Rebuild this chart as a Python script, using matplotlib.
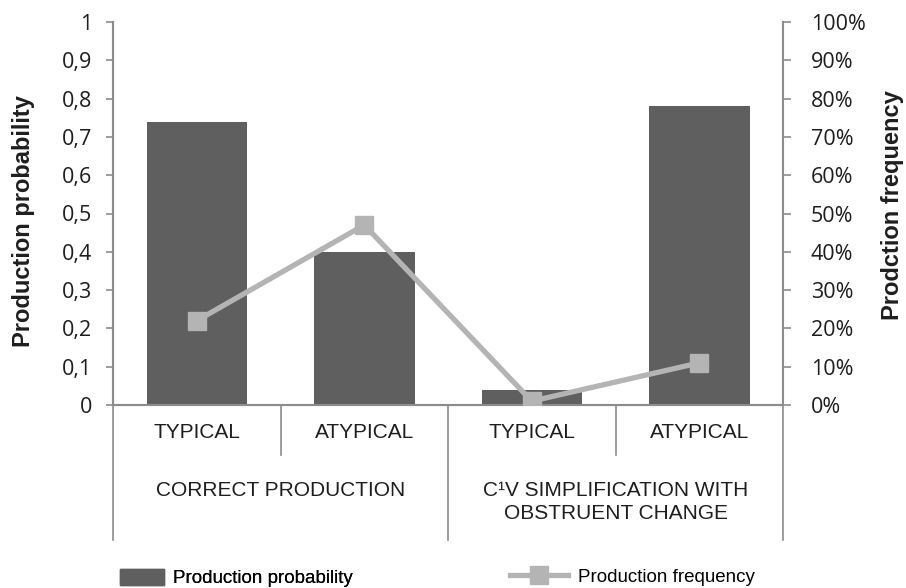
import matplotlib.pyplot as plt
import matplotlib.transforms as mtransforms
from matplotlib.lines import Line2D
from matplotlib.patches import Patch

# data
inner_labels = ["TYPICAL", "ATYPICAL", "TYPICAL", "ATYPICAL"]
outer_labels = ["CORRECT PRODUCTION", "C\u00b9V SIMPLIFICATION WITH\nOBSTRUENT CHANGE"]
probability = [0.74, 0.40, 0.04, 0.78]
frequency = [0.22, 0.47, 0.01, 0.11]

left_ticks = [0, 0.1, 0.2, 0.3, 0.4, 0.5, 0.6, 0.7, 0.8, 0.9, 1]
right_ticks = [0, 0.1, 0.2, 0.3, 0.4, 0.5, 0.6, 0.7, 0.8, 0.9, 1.0]

bar_color = "#5f5f5f"
line_color = "#b4b4b4"
axis_color = "#8c8c8c"
text_color = "#1e1e1e"
arial = ["Liberation Sans", "DejaVu Sans"]
tick_font = ["Open Sans", "DejaVu Sans"]

fig = plt.figure(figsize=(9.06, 5.88), dpi=100)
ax = fig.add_axes([113 / 906, 1 - 405 / 588, 670 / 906, 383 / 588])
ax2 = ax.twinx()

x = list(range(len(probability)))
ax.bar(x, probability, width=0.6, color=bar_color, zorder=2)
ax2.plot(x, frequency, color=line_color, lw=3.8, marker="s", markersize=12.5,
         zorder=3)

ax.set_xlim(-0.5, 3.5)
ax.set_ylim(0, 1)
ax2.set_ylim(0, 1)
ax.set_yticks(left_ticks)
ax.set_yticklabels([("%g" % t).replace(".", ",") for t in left_ticks],
                   fontsize=15.5, family=tick_font, color=text_color)
ax2.set_yticks(right_ticks)
ax2.set_yticklabels(["%d%%" % round(t * 100) for t in right_ticks],
                    fontsize=15.5, family=tick_font, color=text_color)
ax.set_xticks([])

for a in (ax, ax2):
    for s in a.spines.values():
        s.set_color(axis_color)
        s.set_linewidth(1.5)
    a.spines["top"].set_visible(False)
ax.spines["right"].set_visible(False)
ax.tick_params(axis="y", color=axis_color, length=5, width=1.2, pad=10)
ax2.tick_params(axis="y", color=axis_color, length=6, width=1.2, pad=14)

ax.set_ylabel("Production probability", fontsize=17, fontweight="bold",
              family=arial, color=text_color, va="center")
ax2.set_ylabel("Prodction frequency", fontsize=17, fontweight="bold",
               family=arial, color=text_color, va="center", rotation=90)
ax.yaxis.set_label_coords(-89 / 670, 0.48)
ax2.yaxis.set_label_coords(779 / 670, 0.522)

# two-level category axis
trans = mtransforms.blended_transform_factory(ax.transData, ax.transAxes)
short_y = -50 / 383
long_y = -135 / 383
for pos in [-0.5, 1.5, 3.5]:
    ax.plot([pos, pos], [0, long_y], transform=trans, color=axis_color,
            lw=1.2, clip_on=False)
for pos in [0.5, 2.5]:
    ax.plot([pos, pos], [0, short_y], transform=trans, color=axis_color,
            lw=1.2, clip_on=False)
for i, lab in enumerate(inner_labels):
    ax.text(i, -27 / 383, lab, transform=trans, ha="center", va="center",
            fontsize=15, family=arial, color=text_color)
for j, lab in enumerate(outer_labels):
    ax.text(2 * j + 0.5, -76 / 383, lab, transform=trans, ha="center", va="top",
            fontsize=15, family=arial, color=text_color, linespacing=1.25)

# legend, two separate entries like the reference
leg1 = fig.legend(handles=[Patch(color=bar_color, label="Production probability")],
                  loc="center left", bbox_to_anchor=(120 / 906, 1 - 578 / 588),
                  frameon=False, prop={"family": arial, "size": 13.5},
                  borderpad=0, borderaxespad=0, handlelength=2.35,
                  handleheight=1.0, handletextpad=0.5)
fig.legend(handles=[Line2D([0], [0], color=line_color, lw=3.8, marker="s",
                           markersize=12.5, label="Production frequency")],
           loc="center left", bbox_to_anchor=(510 / 906, 1 - 577 / 588),
           frameon=False, prop={"family": arial, "size": 13.5},
           borderpad=0, borderaxespad=0, handlelength=3.1, handletextpad=0.5)
fig.add_artist(leg1)

fig.savefig("out.png", dpi=100)
